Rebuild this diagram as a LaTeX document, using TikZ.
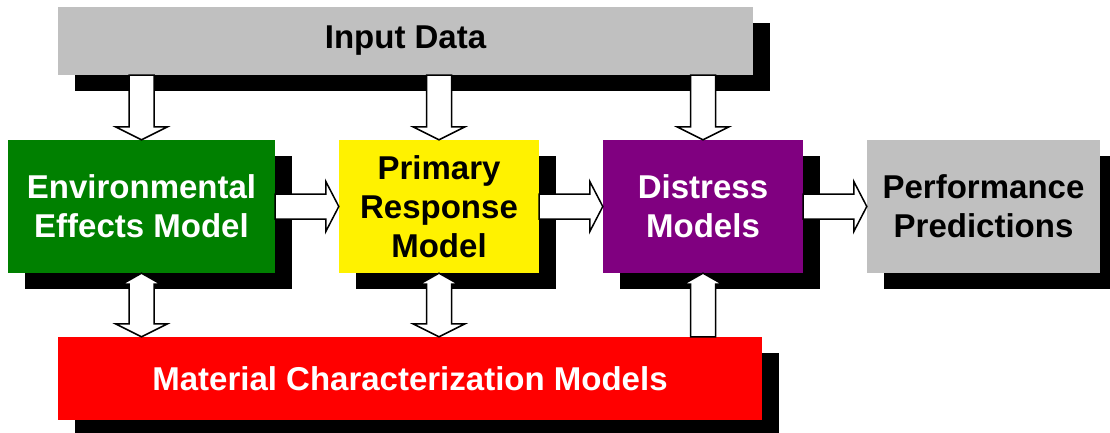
\documentclass[tikz,border=0pt]{standalone}
\usepackage{fontspec}
\setmainfont{Liberation Sans}
\usetikzlibrary{calc,shadows}
\definecolor{boxgray}{RGB}{192,192,192}
\definecolor{envgreen}{RGB}{0,128,0}
\definecolor{dispurple}{RGB}{128,0,128}
\tikzset{
    box/.style={inner sep=0pt, align=center, minimum height=133pt,
        font=\fontsize{33}{39}\selectfont\bfseries,
        general shadow={shadow xshift=17pt, shadow yshift=-16pt, fill=black}},
    fat/.style={draw=black, fill=white, line width=1.5pt, line join=miter}
}
\newcommand{\fatarrow}[4]{%
    \coordinate (fa-h) at ($(#2)!#4!(#1)$);
    \draw[fat] ($(#1)!12.5pt!90:(#2)$) -- ($(fa-h)!12.5pt!90:(#2)$) -- ($(fa-h)!#3!90:(#2)$) -- (#2)
        -- ($(fa-h)!#3!-90:(#2)$) -- ($(fa-h)!12.5pt!-90:(#2)$) -- ($(#1)!12.5pt!-90:(#2)$) -- cycle;}
\newcommand{\fatdarrow}[6]{%
    \coordinate (fa-a) at ($(#1)!#4!(#2)$);
    \coordinate (fa-b) at ($(#2)!#6!(#1)$);
    \draw[fat] (#1) -- ($(fa-a)!#3!90:(#2)$) -- ($(fa-a)!12.5pt!90:(#2)$) -- ($(fa-b)!12.5pt!90:(#2)$)
        -- ($(fa-b)!#5!90:(#2)$) -- (#2) -- ($(fa-b)!#5!-90:(#2)$) -- ($(fa-b)!12.5pt!-90:(#2)$)
        -- ($(fa-a)!12.5pt!-90:(#2)$) -- ($(fa-a)!#3!-90:(#2)$) -- cycle;}

\begin{document}
\begin{tikzpicture}[x=1pt, y=-1pt]
    \clip (0,0) rectangle (1110,433);
    \node[box, fill=boxgray, minimum width=695pt, minimum height=68pt] (in) at (405.5,41) {Input Data};
    \node[box, fill=envgreen, text=white, minimum width=267pt] (env) at (141.5,206.5) {Environmental\\Effects Model};
    \node[box, fill=yellow, minimum width=200pt] (prim) at (439,206.5) {Primary\\Response\\Model};
    \node[box, fill=dispurple, text=white, minimum width=200pt] (dis) at (703,206.5) {Distress\\Models};
    \node[box, fill=boxgray, minimum width=233pt] (perf) at (983.5,206.5) {Performance\\Predictions};
    \node[box, fill=red, text=white, minimum width=704pt, minimum height=83pt] (mat) at (410,378.5) {Material Characterization Models};

    \coordinate (in-env) at (in.south -| env.north);
    \coordinate (in-prim) at (in.south -| prim.north);
    \coordinate (in-dis) at (in.south -| dis.north);
    \coordinate (mat-env) at (mat.north -| env.south);
    \coordinate (mat-prim) at (mat.north -| prim.south);
    \coordinate (mat-dis) at (mat.north -| dis.south);

    \fatarrow{in-env}{env.north}{26pt}{13pt}
    \fatarrow{in-prim}{prim.north}{26pt}{13pt}
    \fatarrow{in-dis}{dis.north}{26pt}{13pt}
    \fatarrow{env.east}{prim.west}{25pt}{13pt}
    \fatarrow{prim.east}{dis.west}{25pt}{13pt}
    \fatarrow{dis.east}{perf.west}{25pt}{13pt}
    \fatdarrow{env.south}{mat-env}{19.5pt}{11pt}{26pt}{13pt}
    \fatdarrow{prim.south}{mat-prim}{19.5pt}{11pt}{26pt}{13pt}
    \fatarrow{mat-dis}{dis.south}{19.5pt}{11pt}
\end{tikzpicture}
\end{document}
